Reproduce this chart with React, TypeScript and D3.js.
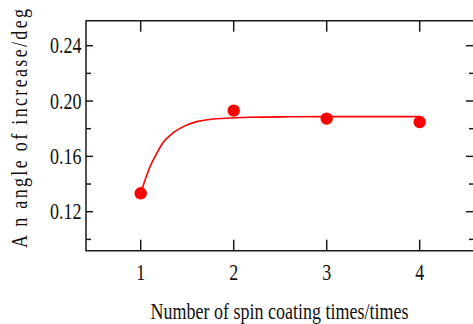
import React, { useEffect, useRef } from 'react';
import * as d3 from 'd3';

// measured points
const coatTimes = [1, 2, 3, 4];
const angleValues = [0.1333, 0.1931, 0.1873, 0.1848];

// fitted curve
const fitX = [1, 1.05, 1.1, 1.172, 1.243, 1.35, 1.458, 1.602, 1.781, 1.96, 2.175, 2.6, 3, 3.5, 4];
const fitY = [0.1333, 0.1435, 0.1525, 0.1622, 0.1702, 0.1771, 0.1815, 0.1851, 0.187, 0.1877, 0.1883, 0.1886, 0.1887, 0.1887, 0.1887];

const yMajorTicks = [0.12, 0.16, 0.2, 0.24];
const yMinorTicks = [0.1, 0.14, 0.18, 0.22];

const App: React.FC = () => {
  const chartRef = useRef<SVGSVGElement | null>(null);

  useEffect(() => {
    const W = 473;
    const H = 324;
    const left = 86, right = 474, top = 20.7, bottom = 250.7;
    const font = '"Liberation Serif", "Times New Roman", serif';
    const stretch = 1.26;
    const axisColor = '#1a1a1a';

    const svg = d3.select(chartRef.current);
    svg.selectAll('*').remove();
    svg.attr('width', W).attr('height', H);

    svg.append('rect').attr('width', W).attr('height', H).attr('fill', 'white');

    const x = d3.scaleLinear().domain([0.4, 4.6]).range([84.9, 475.5]);
    const y = d3.scaleLinear().domain([0.12, 0.24]).range([211.7, 45.7]);

    // frame
    const frame = svg.append('g').attr('stroke', axisColor).attr('stroke-width', 1.5).attr('fill', 'none');
    frame.append('path').attr('d', `M${right},${top}H${left}V${bottom}H${right}V${top}`);

    // x ticks top and bottom
    coatTimes.forEach(t => {
      frame.append('line').attr('x1', x(t)).attr('x2', x(t)).attr('y1', bottom).attr('y2', bottom - 11);
      frame.append('line').attr('x1', x(t)).attr('x2', x(t)).attr('y1', top).attr('y2', top + 11);
    });

    // y ticks left and right
    yMajorTicks.forEach(v => {
      frame.append('line').attr('x1', left).attr('x2', left + 7).attr('y1', y(v)).attr('y2', y(v));
      frame.append('line').attr('x1', right).attr('x2', right - 8).attr('y1', y(v)).attr('y2', y(v));
    });
    yMinorTicks.forEach(v => {
      frame.append('line').attr('x1', left).attr('x2', left + 5).attr('y1', y(v)).attr('y2', y(v));
      frame.append('line').attr('x1', right).attr('x2', right - 5).attr('y1', y(v)).attr('y2', y(v));
    });

    const label = (tx: number, ty: number, txt: string, anchor: string, size: number) =>
      svg.append('g')
        .attr('transform', `translate(${tx},${ty}) scale(1,${stretch})`)
        .append('text')
        .attr('text-anchor', anchor)
        .style('font-family', font)
        .style('font-size', `${size}px`)
        .attr('fill', '#111')
        .text(txt);

    yMajorTicks.forEach(v => {
      label(81.5, y(v) + 7.5, v.toFixed(2), 'end', 18);
    });
    coatTimes.forEach(t => {
      label(x(t), 279.5, String(t), 'middle', 18);
    });

    // axis titles
    label(279.5, 318.5, 'Number of spin coating times/times', 'middle', 18);

    svg.append('g')
      .attr('transform', `translate(26.5,128.5) rotate(-90) scale(1,${stretch})`)
      .append('text')
      .attr('text-anchor', 'middle')
      .attr('textLength', 239)
      .attr('lengthAdjust', 'spacing')
      .style('font-family', font)
      .style('font-size', '18px')
      .attr('fill', '#111')
      .text('A n angle of increase/deg');

    // fitted curve
    const line = d3.line<number>()
      .x((_, i) => x(fitX[i]))
      .y(d => y(d))
      .curve(d3.curveMonotoneX);

    svg.append('path')
      .datum(fitY)
      .attr('d', line)
      .attr('fill', 'none')
      .attr('stroke', '#ff0000')
      .attr('stroke-width', 1.6);

    svg.selectAll('.dot')
      .data(angleValues)
      .enter().append('circle')
      .attr('class', 'dot')
      .attr('cx', (_, i) => x(coatTimes[i]))
      .attr('cy', d => y(d))
      .attr('r', 6.2)
      .attr('fill', '#ff0000');
  }, []);

  return (
    <div style={{ position: 'absolute', left: 0, top: 0 }}>
      <svg ref={chartRef}></svg>
    </div>
  );
};

export default App;
